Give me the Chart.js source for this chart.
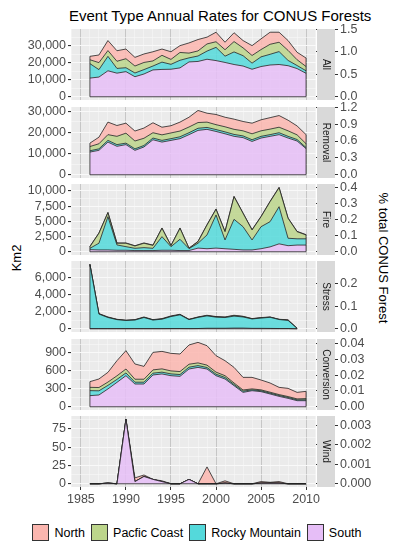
<!DOCTYPE html>
<html>
<head>
<meta charset="utf-8">
<script src="https://cdn.jsdelivr.net/npm/chart.js@4.4.1/dist/chart.umd.min.js"></script>
<style>
  body { margin: 0; width: 394px; height: 550px; background: #fff; position: relative; overflow: hidden;
         font-family: "Liberation Sans", Arial, sans-serif; }
  canvas { position: absolute; left: 0; }
  #title { position: absolute; left: 69px; top: 7px; font-size: 15px; color: #000; white-space: nowrap; }
  .axisTitle { position: absolute; font-size: 13px; color: #000; white-space: nowrap; }
  #kmTitle { left: 16px; top: 258px; transform: translate(-50%, -50%) rotate(-90deg); }
  #pctTitle { left: 383px; top: 258px; transform: translate(-50%, -50%) rotate(90deg); }
  #legend { position: absolute; left: 0; top: 524px; width: 394px; display: flex; justify-content: center;
            align-items: center; font-size: 12.5px; color: #000; }
  .item { display: flex; align-items: center; margin: 0 3px; }
  .key { width: 17px; height: 17px; border: 1px solid #333; box-sizing: border-box; margin-right: 5px; }
</style>
</head>
<body>
<div id="title">Event Type Annual Rates for CONUS Forests</div>
<div id="kmTitle" class="axisTitle">Km2</div>
<div id="pctTitle" class="axisTitle">% total CONUS Forest</div>
<div id="legend"></div>
<script>
// --- data ---
const years = [1986, 1987, 1988, 1989, 1990, 1991, 1992, 1993, 1994, 1995, 1996, 1997, 1998,
               1999, 2000, 2001, 2002, 2003, 2004, 2005, 2006, 2007, 2008, 2009, 2010];
const regions = ["North", "Pacfic Coast", "Rocky Mountain", "South"];
const panelNames = ["All", "Removal", "Fire", "Stress", "Conversion", "Wind"];

// All
const allSouth = [11000, 11600, 15300, 13900, 14800, 11800, 13400, 15800, 16100, 16200, 17000, 20500, 20800, 22100, 21300, 20200, 19000, 18100, 16200, 17800, 18700, 19000, 18300, 16600, 13800];
const allRocky = [8500, 4400, 8500, 2800, 2300, 2200, 2600, 2300, 4300, 2900, 4500, 2400, 3200, 4800, 7800, 3700, 7400, 6100, 3600, 5700, 6300, 7600, 3100, 1800, 1500];
const allPacific = [2300, 4100, 3400, 4200, 5300, 4100, 4200, 3000, 4000, 2900, 4600, 2800, 3000, 4200, 3300, 3800, 6100, 4600, 4500, 4300, 5900, 5500, 5900, 3400, 2500];
const allNorth = [2000, 4500, 5900, 6200, 5700, 5100, 5000, 5400, 3700, 4500, 4000, 6000, 6700, 4000, 5600, 4400, 5200, 4300, 5800, 6300, 7100, 5900, 5800, 4400, 5000];

// Removal
const remSouth = [10700, 11500, 15400, 13400, 14200, 11500, 13100, 16500, 15400, 16200, 17000, 18900, 20900, 21400, 20400, 19300, 18100, 17500, 15700, 17300, 18100, 18900, 17300, 15900, 12300];
const remRocky = [600, 700, 800, 800, 700, 700, 700, 800, 800, 800, 900, 900, 1000, 900, 900, 900, 900, 800, 800, 800, 800, 900, 800, 700, 500];
const remPacific = [2000, 2400, 2700, 3900, 4700, 3700, 3400, 2500, 2600, 2700, 2700, 2700, 2700, 2500, 2300, 2400, 2400, 2400, 2800, 2600, 2600, 2600, 2600, 2200, 1800];
const remNorth = [1600, 3100, 5900, 5100, 4700, 4700, 4800, 4700, 3600, 3400, 4200, 4600, 5700, 4200, 4800, 4500, 4800, 4400, 5000, 5200, 5400, 5500, 5000, 4200, 4300];

// Fire
const fireSouth = [350, 300, 300, 250, 250, 200, 200, 200, 250, 250, 200, 200, 600, 500, 600, 500, 400, 300, 300, 500, 800, 1300, 1000, 1100, 1100];
const fireRocky = [220, 1100, 5460, 870, 590, 370, 480, 370, 2230, 590, 1850, 310, 800, 2260, 5440, 1440, 4930, 3820, 1640, 3620, 4140, 6100, 1220, 1030, 1030];
const firePacific = [270, 1640, 660, 280, 560, 380, 720, 480, 1380, 160, 1810, 60, 260, 1640, 940, 1360, 3720, 2200, 1640, 1640, 3290, 3130, 3280, 1170, 630];
const fireNorth = [50, 50, 50, 50, 50, 50, 50, 50, 50, 50, 50, 30, 50, 50, 50, 50, 50, 50, 50, 50, 50, 50, 50, 50, 50];

// Stress
const stressSouth = [20, 20, 20, 20, 20, 20, 20, 20, 20, 30, 30, 20, 30, 60, 60, 60, 80, 80, 50, 50, 40, 30, 30, 0, null];
const stressRocky = [7500, 1700, 1300, 1050, 950, 1000, 1300, 1000, 1100, 1400, 1600, 1050, 1300, 1450, 1300, 1250, 1400, 1300, 1100, 1200, 1300, 1050, 950, 50, null];
const stressPacific = [20, 20, 20, 20, 20, 20, 20, 20, 20, 20, 20, 20, 20, 30, 30, 40, 60, 50, 20, 30, 20, 20, 20, 0, null];
const stressNorth = [10, 40, 40, 20, 0, 30, 40, 30, 50, 50, 50, 20, 30, 40, 40, 30, 40, 30, 20, 30, 20, 10, 50, 0, null];

// Conversion
const convSouth = [186, 197, 298, 408, 520, 381, 381, 532, 549, 520, 509, 632, 659, 632, 520, 465, 353, 241, 269, 253, 214, 174, 141, 102, 102];
const convRocky = [84, 70, 60, 50, 46, 30, 30, 30, 30, 30, 30, 30, 30, 25, 25, 25, 20, 20, 15, 15, 15, 15, 15, 15, 15];
const convPacific = [55, 55, 55, 60, 66, 50, 50, 55, 55, 50, 50, 50, 45, 40, 35, 30, 25, 20, 15, 15, 15, 15, 15, 15, 20];
const convNorth = [95, 143, 163, 253, 307, 255, 215, 293, 293, 294, 294, 322, 344, 325, 275, 251, 261, 211, 193, 165, 154, 121, 137, 109, 121];

// Wind
const windSouth = [0, 0, 1, 0, 88, 3, 10, 6, 3, 0, 0, 6, 0, 0, 0, 1, 0, 0, 0, 1, 1, 1, 0, 0, 0];
const windRocky = [0, 0, 0, 0, 0, 0, 0, 0, 0, 0, 0, 0, 0, 0, 0, 0, 0, 0, 0, 0, 0, 0, 0, 0, 0];
const windPacific = [0, 0, 0, 0, 0, 0, 0, 0, 0, 0, 0, 0, 0, 0, 0, 0, 0, 0, 0, 0, 0, 0, 0, 0, 0];
const windNorth = [0, 0, 0, 0, 0, 5, 2, 0, 1, 0, 0, 0, 0, 23, 0, 3, 0, 0, 0, 2, 1, 2, 0, 0, 0];

// axis settings per panel
const panelMax = [38000, 30400, 10600, 7550, 1080, 88];
const kmSteps = [10000, 10000, 2500, 2000, 300, 25];
const pctSteps = [0.5, 0.3, 0.1, 0.1, 0.01, 0.001];
const pctDigits = [1, 1, 1, 1, 2, 3];
const kmPerPct = 26500;

// --- styles ---
const regionColors = ["#FBB6AF", "#BCD58B", "#54D9DB", "#E6BEF7"];
const FONT = "'Liberation Sans', Arial, sans-serif";
const W = 394, PANEL_H = 71, PAD = 10;
const panelTops = [29, 107, 184, 261, 339, 416];

// bottom-up stacking: South, Rocky Mountain, Pacfic Coast, North
const panelSeries = [
    [allSouth, allRocky, allPacific, allNorth],
    [remSouth, remRocky, remPacific, remNorth],
    [fireSouth, fireRocky, firePacific, fireNorth],
    [stressSouth, stressRocky, stressPacific, stressNorth],
    [convSouth, convRocky, convPacific, convNorth],
    [windSouth, windRocky, windPacific, windNorth]
];
const stackColorIdx = [3, 2, 1, 0];

// legend
const legend = document.getElementById("legend");
regions.forEach((name, i) => {
    legend.insertAdjacentHTML("beforeend",
        `<div class="item"><div class="key" style="background:${regionColors[i]}"></div><span>${name}</span></div>`);
});

// panel background, outline edges, strip
const panelDeco = {
    id: "panelDeco",
    beforeDraw(chart) {
        const a = chart.chartArea, ctx = chart.ctx;
        ctx.save();
        ctx.fillStyle = "#EBEBEB";
        ctx.fillRect(a.left, a.top, a.right - a.left, a.bottom - a.top);
        ctx.restore();
    },
    afterDatasetsDraw(chart) {
        const ctx = chart.ctx;
        const top = chart.getDatasetMeta(chart.data.datasets.length - 1).data;
        const vals = chart.data.datasets[0].data;
        let first = 0, last = vals.length - 1;
        while (last > 0 && vals[last].y === null) last--;
        const y0 = chart.scales.y.getPixelForValue(0);
        ctx.save();
        ctx.strokeStyle = "#222";
        ctx.lineWidth = 0.8;
        ctx.beginPath();
        ctx.moveTo(top[first].x, top[first].y);
        ctx.lineTo(top[first].x, y0);
        ctx.lineTo(top[last].x, y0);
        ctx.lineTo(top[last].x, top[last].y);
        ctx.stroke();
        ctx.restore();
    },
    afterDraw(chart, args, opts) {
        const a = chart.chartArea, ctx = chart.ctx;
        ctx.save();
        ctx.fillStyle = "#D9D9D9";
        ctx.fillRect(a.right + 1, a.top, 18, a.bottom - a.top);
        ctx.translate(a.right + 10, (a.top + a.bottom) / 2);
        ctx.rotate(Math.PI / 2);
        ctx.fillStyle = "#1A1A1A";
        ctx.font = "10px " + FONT;
        ctx.textAlign = "center";
        ctx.textBaseline = "middle";
        ctx.fillText(opts.label, 0, 0);
        ctx.restore();
    }
};

function isMultiple(v, step) {
    return Math.abs(v / step - Math.round(v / step)) < 1e-6;
}

// ticks at every multiple of step inside the axis range
function stepTicks(step) {
    return scale => {
        const ticks = [];
        for (let k = Math.ceil(scale.min / step - 1e-9); k * step <= scale.max + 1e-9; k++) {
            ticks.push({ value: +(k * step).toFixed(6) });
        }
        scale.ticks = ticks;
    };
}

panelNames.forEach((name, p) => {
    const isLast = p === panelNames.length - 1;
    const canvas = document.createElement("canvas");
    canvas.width = W;
    canvas.height = PAD + PANEL_H + (isLast ? 20 : PAD);
    canvas.style.top = (panelTops[p] - PAD) + "px";
    document.body.appendChild(canvas);

    const M = panelMax[p];
    const yMin = -0.05 * M, yMax = 1.05 * M;
    const step = kmSteps[p];

    const datasets = panelSeries[p].map((vals, k) => ({
        data: years.map((yr, i) => ({ x: yr, y: vals[i] })),
        backgroundColor: regionColors[stackColorIdx[k]] + "D9",
        borderColor: "#222",
        borderWidth: 0.8,
        pointRadius: 0,
        tension: 0,
        fill: k === 0 ? "origin" : "-1"
    }));

    new Chart(canvas.getContext("2d"), {
        type: "line",
        data: { datasets: datasets },
        plugins: [panelDeco],
        options: {
            responsive: false,
            animation: false,
            layout: { padding: { top: PAD, bottom: isLast ? 0 : PAD, left: 0, right: 0 } },
            plugins: {
                legend: { display: false },
                tooltip: { enabled: false },
                panelDeco: { label: name }
            },
            scales: {
                x: {
                    type: "linear",
                    min: 1983.9,
                    max: 2011.1,
                    border: { display: false },
                    afterBuildTicks: stepTicks(1),
                    grid: {
                        color: c => isMultiple(c.tick.value, 5) ? "#C6C6C6" : "#F7F7F7",
                        lineWidth: c => isMultiple(c.tick.value, 5) ? 1 : 0.6,
                        tickColor: c => isMultiple(c.tick.value, 5) ? "#333" : "rgba(0,0,0,0)",
                        tickLength: 3,
                        drawTicks: isLast
                    },
                    ticks: {
                        display: isLast,
                        autoSkip: false,
                        maxRotation: 0,
                        padding: 2,
                        color: "#4D4D4D",
                        font: { family: FONT, size: 12.5 },
                        callback: v => isMultiple(v, 5) ? String(v) : ""
                    },
                    afterFit: s => { s.height = isLast ? 20 : 0; }
                },
                y: {
                    stacked: true,
                    position: "left",
                    min: yMin,
                    max: yMax,
                    border: { display: false },
                    afterBuildTicks: stepTicks(step / 2),
                    grid: {
                        color: "#F9F9F9",
                        lineWidth: c => isMultiple(c.tick.value, step) ? 1.1 : 0.6,
                        tickColor: c => isMultiple(c.tick.value, step) ? "#333" : "rgba(0,0,0,0)",
                        tickLength: 3
                    },
                    ticks: {
                        autoSkip: false,
                        padding: 2,
                        color: "#4D4D4D",
                        font: { family: FONT, size: 12.5 },
                        callback: v => isMultiple(v, step) ? Math.round(v).toLocaleString("en-US") : ""
                    },
                    afterFit: s => { s.width = 71; }
                },
                y1: {
                    position: "right",
                    min: yMin / kmPerPct,
                    max: yMax / kmPerPct,
                    border: { display: false },
                    afterBuildTicks: stepTicks(pctSteps[p]),
                    grid: { drawOnChartArea: false, tickColor: "#333", tickLength: 22 },
                    ticks: {
                        autoSkip: false,
                        padding: 2,
                        color: "#4D4D4D",
                        font: { family: FONT, size: 12.5 },
                        callback: v => Math.abs(v).toFixed(pctDigits[p])
                    },
                    afterFit: s => { s.width = 78; }
                }
            }
        }
    });
});
</script>
</body>
</html>
